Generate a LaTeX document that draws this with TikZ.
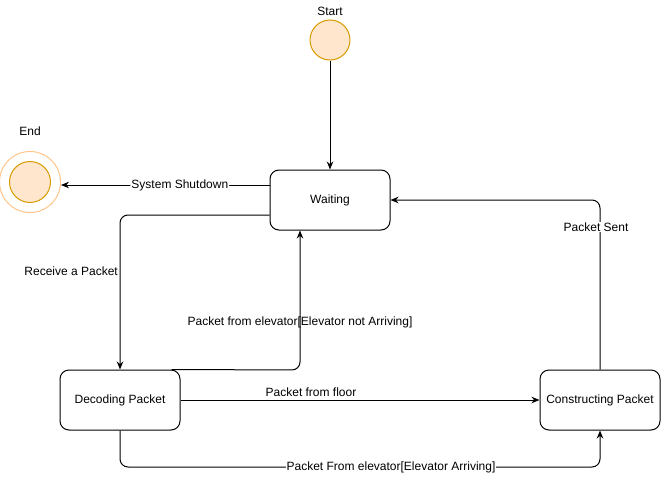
\documentclass[tikz,border=0pt]{standalone}
\usepackage{fontspec}
\setmainfont{Liberation Sans}
\usetikzlibrary{arrows.meta,calc}
\definecolor{stfill}{HTML}{FFE6CC}
\definecolor{ststroke}{HTML}{D79B00}
\definecolor{endring}{HTML}{FFC58A}
\begin{document}
\begin{tikzpicture}[x=1pt,y=-1pt,
  font=\fontsize{12}{14}\selectfont,
  statebox/.style={draw, line width=1pt, rounded corners=9pt, minimum width=120pt, minimum height=60pt, inner sep=0pt, align=center},
  startc/.style={circle, draw=ststroke, fill=stfill, line width=1pt, minimum size=40pt, inner sep=0pt},
  endin/.style={circle, draw=ststroke, fill=stfill, line width=1pt, minimum size=41pt, inner sep=0pt},
  endout/.style={circle, draw=endring, line width=1pt, minimum size=61pt, inner sep=0pt},
  arr/.style={draw, line width=1pt, -{Stealth[length=8pt,width=6.5pt]}, rounded corners=8pt},
  lbl/.style={inner sep=1pt},
  lblw/.style={inner sep=1pt, fill=white}
]
\useasboundingbox (0,0) rectangle (661,479);

\node[statebox] (W) at (330,200) {Waiting};
\node[statebox] (D) at (120,400) {Decoding Packet};
\node[statebox] (C) at (600,400) {Constructing Packet};
\node[startc] (S) at (330,40) {};
\node[lbl] (St) at (330,11) {Start};
\node[endout] (Eo) at (30,182) {};
\node[endin] (E) at (30,182) {};
\node[lbl] (Et) at (30,131) {End};

% Start -> Waiting
\draw[arr] (S) -- (W);

% Waiting -> End
\draw[arr] (W.west |- 0,185) -- (Eo.east |- 0,185)
  node[lblw, pos=0.43] (l1) {System Shutdown};

% Waiting -> Decoding
\draw[arr] (W.west |- 0,215) -| (D.north);
\node[lbl, anchor=east] (l2) at (119,271) {Receive a Packet};

% Decoding -> Waiting (not arriving)
\draw[arr] ($(D.north east)+(-9,0)$) -- (300,370) -- (W.south -| 300,0);
\node[lbl] (l3) at (300,322) {Packet from elevator[Elevator not Arriving]};

% Decoding -> Constructing (floor)
\draw[arr] (D) -- (C);
\node[lbl] (l4) at (311,392) {Packet from floor};

% Decoding -> Constructing (arriving)
\draw[arr] (D.south) -- (D.south |- 0,467) -- (C.south |- 0,467) -- (C.south);
\node[lblw] (l5) at (391,467) {Packet From elevator[Elevator Arriving]};

% Constructing -> Waiting
\draw[arr] (C.north) -- (C.north |- W.east) -- (W.east);
\node[lblw] (l6) at (596,227) {Packet Sent};
\end{tikzpicture}
\end{document}
